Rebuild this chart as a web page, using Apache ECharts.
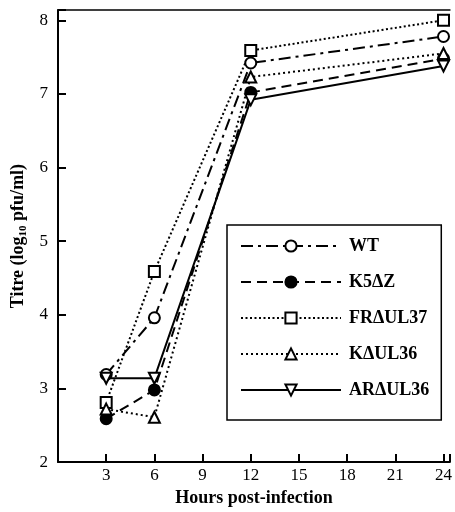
<!DOCTYPE html>
<html>
<head>
<meta charset="utf-8">
<script src="https://cdn.jsdelivr.net/npm/echarts@6/dist/echarts.min.js"></script>
<style>
html, body { margin: 0; padding: 0; background: #fff; }
#chart { width: 455px; height: 512px; }
</style>
</head>
<body>
<div id="chart"></div>
<script>
// hours post-infection
var hours = [3, 6, 12, 24];
// titres, log10 pfu/ml
var wt = [3.19, 3.96, 7.42, 7.78];
var k5dz = [2.59, 2.98, 7.02, 7.48];
var frdul37 = [2.81, 4.59, 7.59, 8.0];
var kdul36 = [2.72, 2.61, 7.23, 7.55];
var ardul36 = [3.14, 3.14, 6.92, 7.38];
var names = ['WT', 'K5\u0394Z', 'FR\u0394UL37', 'K\u0394UL36', 'AR\u0394UL36'];

var serif = '"Liberation Serif", "DejaVu Serif", serif';
var downTri = 'path://M0,0 L10,0 L5,9 Z';

function pairs(vals) {
    return hours.map(function (h, i) { return [h, vals[i]]; });
}

function mkSeries(name, vals, symbol, filled, dash) {
    return {
        name: name,
        type: 'line',
        data: pairs(vals),
        symbol: symbol,
        symbolSize: 11,
        showAllSymbol: true,
        lineStyle: { color: '#000', width: 2, type: dash },
        itemStyle: { color: filled ? '#000' : '#fff', borderColor: '#000', borderWidth: 2 },
        emphasis: { disabled: true },
        animation: false
    };
}

var chart = echarts.init(document.getElementById('chart'));
chart.setOption({
    animation: false,
    grid: { left: 58, right: 0, top: 10, bottom: 49 },
    legend: {
        orient: 'vertical',
        left: 227,
        top: 225,
        itemWidth: 100,
        itemHeight: 14,
        itemGap: 18,
        padding: [12, 12, 21, 13],
        borderColor: '#000',
        borderWidth: 1.5,
        borderRadius: 0,
        textStyle: { fontFamily: serif, fontWeight: 'bold', fontSize: 18, color: '#000', padding: [0, 0, 0, 3] },
        data: names
    },
    xAxis: [{
        type: 'value',
        min: 0,
        max: 24.4,
        interval: 3,
        name: 'Hours post-infection',
        nameLocation: 'middle',
        nameGap: 21,
        nameTextStyle: { fontFamily: serif, fontWeight: 'bold', fontSize: 18, color: '#000' },
        axisLine: { onZero: false, lineStyle: { color: '#000', width: 2 } },
        axisTick: { inside: true, length: 8, lineStyle: { color: '#000', width: 2 } },
        axisLabel: {
            fontFamily: serif, fontSize: 17, color: '#000', margin: 5,
            showMinLabel: false,
            formatter: function (v) { return (v > 0 && v % 3 === 0) ? v : ''; }
        },
        splitLine: { show: false }
    }, {
        type: 'value',
        position: 'top',
        min: 0,
        max: 24.4,
        axisLine: { show: true, onZero: false, lineStyle: { color: '#000', width: 1.5 } },
        axisTick: { show: false },
        axisLabel: { show: false },
        splitLine: { show: false }
    }],
    yAxis: {
        type: 'value',
        min: 2,
        max: 8.14,
        interval: 1,
        name: 'Titre (log{sub|10} pfu/ml)',
        nameLocation: 'middle',
        nameRotate: 90,
        nameGap: 24,
        nameTextStyle: {
            fontFamily: serif, fontWeight: 'bold', fontSize: 18, color: '#000',
            rich: {
                sub: { fontFamily: serif, fontWeight: 'bold', fontSize: 11, color: '#000', padding: [9, 0, 0, 0] }
            }
        },
        axisLine: { onZero: false, lineStyle: { color: '#000', width: 2 } },
        axisTick: { inside: true, length: 8, lineStyle: { color: '#000', width: 2 } },
        axisLabel: {
            fontFamily: serif, fontSize: 17, color: '#000', margin: 10,
            formatter: function (v) { return Math.abs(v - Math.round(v)) < 1e-6 ? v : ''; }
        },
        splitLine: { show: false }
    },
    series: [
        mkSeries(names[0], wt, 'circle', false, [12, 5, 3, 5]),
        mkSeries(names[1], k5dz, 'circle', true, [10, 6]),
        mkSeries(names[2], frdul37, 'rect', false, [2, 2.5]),
        mkSeries(names[3], kdul36, 'triangle', false, [2, 3]),
        mkSeries(names[4], ardul36, downTri, false, 'solid')
    ]
});
</script>
</body>
</html>
